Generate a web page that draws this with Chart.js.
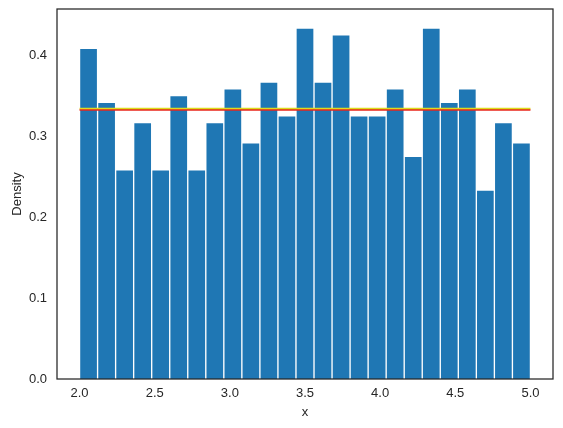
<!DOCTYPE html>
<html>
<head>
<meta charset="utf-8">
<script src="https://cdn.jsdelivr.net/npm/chart.js@4/dist/chart.umd.min.js"></script>
<style>
html,body{margin:0;padding:0;background:#fff;}
#wrap{width:563px;height:428px;position:relative;}
</style>
</head>
<body>
<div id="wrap"><canvas id="c" width="563" height="428"></canvas></div>
<script>
// Histogram bins (centres, width 0.12) and densities
const binCenters = [2.06,2.18,2.30,2.42,2.54,2.66,2.78,2.90,3.02,3.14,3.26,3.38,3.50,3.62,3.74,3.86,3.98,4.10,4.22,4.34,4.46,4.58,4.70,4.82,4.94];
const densities = [0.4083,0.3417,0.2583,0.3167,0.2583,0.3500,0.2583,0.3167,0.3583,0.2917,0.3667,0.3250,0.4333,0.3667,0.4250,0.3250,0.3250,0.3583,0.2750,0.4333,0.3417,0.3583,0.2333,0.3167,0.2917];
// Uniform pdf line
const pdfX = [2.0, 5.0];
const pdfY = [0.3333, 0.3333];
// Tick labels
const xTicks = [2.0,2.5,3.0,3.5,4.0,4.5,5.0];
const yTicks = [0.0,0.1,0.2,0.3,0.4];

const textColor = '#262626';
const font = {family: '"Liberation Sans", Arial, sans-serif', size: 13};

const spines = {
  id: 'spines',
  afterDatasetsDraw(chart) {
    const {ctx, chartArea: a} = chart;
    ctx.save();
    ctx.strokeStyle = '#262626';
    ctx.lineWidth = 1.25;
    ctx.strokeRect(a.left, a.top, a.right - a.left, a.bottom - a.top);
    ctx.restore();
  }
};
const shift = {
  id: 'shift',
  beforeDatasetDraw(chart, args) {
    const ds = chart.data.datasets[args.index];
    if (ds.shiftY) { chart.ctx.save(); chart.ctx.translate(0, ds.shiftY); }
  },
  afterDatasetDraw(chart, args) {
    const ds = chart.data.datasets[args.index];
    if (ds.shiftY) chart.ctx.restore();
  }
};
const noPad = s => { s.paddingTop = 0; s.paddingBottom = 0; s.paddingLeft = 0; s.paddingRight = 0; };

new Chart(document.getElementById('c'), {
  type: 'bar',
  data: {
    datasets: [
      {
        type: 'line',
        data: pdfX.map((x, i) => ({x, y: pdfY[i]})),
        borderColor: '#e8251b',
        borderWidth: 1.6,
        pointRadius: 0,
        fill: false,
        order: 1,
        shiftY: 0.8
      },
      {
        type: 'line',
        data: pdfX.map((x, i) => ({x, y: pdfY[i]})),
        borderColor: '#dcdc1e',
        borderWidth: 1.6,
        pointRadius: 0,
        fill: false,
        order: 0,
        shiftY: -0.6
      },
      {
        type: 'bar',
        data: binCenters.map((x, i) => ({x, y: densities[i]})),
        backgroundColor: '#1f77b4',
        borderColor: 'rgba(255,255,255,0.75)',
        borderWidth: 1,
        barPercentage: 1,
        categoryPercentage: 1,
        order: 2
      }
    ]
  },
  options: {
    responsive: false,
    animation: false,
    devicePixelRatio: 1,
    layout: {padding: {top: 9, right: 10, left: 0, bottom: 0}},
    plugins: {legend: {display: false}, tooltip: {enabled: false}},
    scales: {
      x: {
        type: 'linear',
        min: 1.85, max: 5.15,
        offset: false,
        grid: {display: false, drawTicks: false, tickLength: 0},
        border: {display: false},
        afterBuildTicks: s => { s.ticks = xTicks.map(v => ({value: v})); },
        afterFit: s => { s.height = 49; noPad(s); },
        ticks: {color: textColor, font, padding: 7, maxRotation: 0, autoSkip: false,
                callback: v => Number(v).toFixed(1)},
        title: {display: true, text: 'x', color: textColor, font, padding: {top: 4, bottom: 8}}
      },
      y: {
        min: 0, max: 0.4568,
        grid: {display: false, drawTicks: false, tickLength: 0},
        border: {display: false},
        afterBuildTicks: s => { s.ticks = yTicks.map(v => ({value: v})); },
        afterFit: s => { s.width = 57; noPad(s); },
        ticks: {color: textColor, font, padding: 10, autoSkip: false,
                callback: v => Number(v).toFixed(1)},
        title: {display: true, text: 'Density', color: textColor, font, padding: {top: 10, bottom: 4}}
      }
    }
  },
  plugins: [spines, shift]
});
</script>
</body>
</html>
